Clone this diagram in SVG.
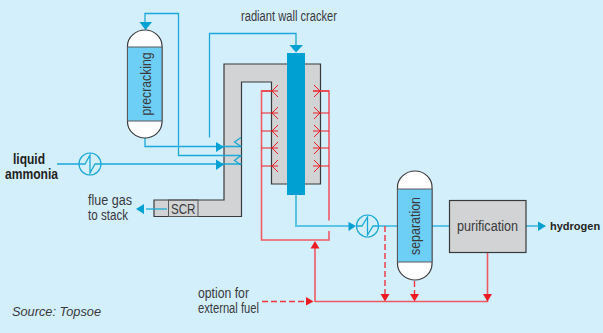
<svg xmlns="http://www.w3.org/2000/svg" width="603" height="333" viewBox="0 0 603 333">
<style>
text{font-family:"Liberation Sans",Arial,sans-serif;font-size:14px;fill:#3a3a3c}
.b{font-weight:bold;fill:#231f20}
.bl{fill:none;stroke:#1aa9d8;stroke-width:1.3}
.bt{fill:none;stroke:#5cc4e6;stroke-width:2}
.r{fill:none;stroke:#ee5a64;stroke-width:1.6}
.rt{fill:none;stroke:#ed1c24;stroke-width:1}
.d{fill:none;stroke:#ee3540;stroke-width:1.4;stroke-dasharray:6 3}
.ch{fill:none;stroke:#ed1c24;stroke-width:1}
.cb{fill:none;stroke:#12a5d6;stroke-width:1.2}
.ah{fill:#00a0d2}.ar{fill:#ed1c24}
.box{fill:#d1d3d4;stroke:#3a3a3c;stroke-width:1.2}
.ves{fill:#fff;stroke:#3a3a3c;stroke-width:1.2}
.band{fill:#6ecff6;stroke:#58595b;stroke-width:1}
.hx{fill:#d3effc;stroke:#1aa9d8;stroke-width:1.2}
</style>
<rect width="603" height="333" fill="#d3effc"/>
<g id="furnace">
<path class="box" d="M224 64H320.500V184H271.500V82H241.500V216.500H154V200H224Z"/>
<rect x="168.500" y="200" width="29.500" height="16.500" fill="none" stroke="#58595b" stroke-width="1"/>
<text x="171" y="214" textLength="24.500" lengthAdjust="spacingAndGlyphs">SCR</text>
</g>
<g id="connectors">
<path class="bl" d="M145 24V13.500H178.500V155.500H241.500"/>
<path class="bl" d="M145 138V146.500H241.500"/>
<path class="bl" d="M209.500 137.500V33.500H296V46"/>
<path class="bl" d="M57 164H241.500"/>
<path class="bt" d="M296 195V226H350"/>
<path class="bt" d="M378 226H397M432 226H449.500"/>
<path class="bl" d="M526 226H540"/>
<path class="bl" d="M167 209H146"/>
<path class="r" d="M271.500 91H261.500V240H329V231M329 220.500V91H313"/>
<path class="rt" d="M261.500 113H278M261.500 131H278M261.500 148H278M261.500 166H278M261.500 91H278M313 91H329M313 113H329M313 131H329M313 148H329M313 166H329"/>
<path class="r" d="M315 302V248M315 301.500H487.500V252"/>
<path class="d" d="M262 301.500H307"/>
<path class="d" d="M385 226V295"/>
<path class="d" d="M414.500 281V295"/>
<path class="cb" d="M241 137.500L234.500 142L241 146.500M241 155.500L234.500 160.500L241 165"/>
<path class="ch" d="M278 85L272 91L278 97M278 107L272 113L278 119M278 125L272 131L278 137M278 142L272 148L278 154M278 160L272 166L278 172"/>
<path class="ch" d="M314 85L320 91L314 97M314 107L320 113L314 119M314 125L320 131L314 137M314 142L320 148L314 154M314 160L320 166L314 172"/>
<path class="ah" d="M139.500 22H152L145.500 30ZM216 142L224 147L216 152ZM216 159.500L224 164.500L216 170ZM289.500 45H303L296 52.500ZM348.500 222L356 226L348.500 231ZM538 221.500L546 226L538 231ZM136 209L144 204V214Z"/>
<path class="ar" d="M310.500 248.500L315 241L319.500 248.500ZM306 297L313.500 301.500L306 305.500ZM380.500 294H389.500L385 301.500ZM410 294H419L414.500 301.500ZM483 294H492L487.500 301.500Z"/>
</g>
<g id="precracking">
<path class="ves" d="M127.500 47V46C127.500 37 136 30 145 30S162 37 162 46V122C162 131 154 138 145 138S127.500 131 127.500 122Z"/>
<rect class="band" x="127.500" y="47" width="34.500" height="74"/>
<text transform="translate(150.500,115.500) rotate(-90)" textLength="63" lengthAdjust="spacingAndGlyphs">precracking</text>
</g>
<g id="cracker"><rect x="287" y="53" width="18" height="142" fill="#00a0d2"/></g>
<g id="exchanger-1">
<circle class="hx" cx="90" cy="164" r="11"/>
<path class="bl" d="M79 164H85L90 155V173L95 164H101"/>
</g>
<g id="exchanger-2">
<circle class="hx" cx="367.500" cy="226" r="11"/>
<path class="bl" d="M356.500 226H362L367.500 217V235L373 226H378.500"/>
</g>
<g id="separation">
<path class="ves" d="M397.500 189V187C397.500 178 406 171 415 171S432 178 432 187V264C432 273 424 280 415 280S397.500 273 397.500 264Z"/>
<rect class="band" x="397.500" y="189" width="34.500" height="73"/>
<text transform="translate(419.500,255) rotate(-90)" textLength="58" lengthAdjust="spacingAndGlyphs">separation</text>
</g>
<g id="purification">
<rect class="box" x="449.500" y="200.500" width="76.500" height="52"/>
<text x="457" y="230.500" textLength="61" lengthAdjust="spacingAndGlyphs">purification</text>
</g>
<g id="labels">
<text x="241" y="21" textLength="96" lengthAdjust="spacingAndGlyphs">radiant wall cracker</text>
<text class="b" x="13" y="164" textLength="32" lengthAdjust="spacingAndGlyphs">liquid</text>
<text class="b" x="5" y="179" textLength="53" lengthAdjust="spacingAndGlyphs">ammonia</text>
<text x="88" y="205" textLength="44" lengthAdjust="spacingAndGlyphs">flue gas</text>
<text x="88" y="220" textLength="40" lengthAdjust="spacingAndGlyphs">to stack</text>
<text x="198" y="298" textLength="51" lengthAdjust="spacingAndGlyphs">option for</text>
<text x="198" y="313" textLength="61" lengthAdjust="spacingAndGlyphs">external fuel</text>
<text class="b" x="550" y="230" style="font-size:11px">hydrogen</text>
<text x="12" y="316" font-style="italic" style="font-size:13px" textLength="89" lengthAdjust="spacingAndGlyphs">Source: Topsoe</text>
</g>
</svg>
